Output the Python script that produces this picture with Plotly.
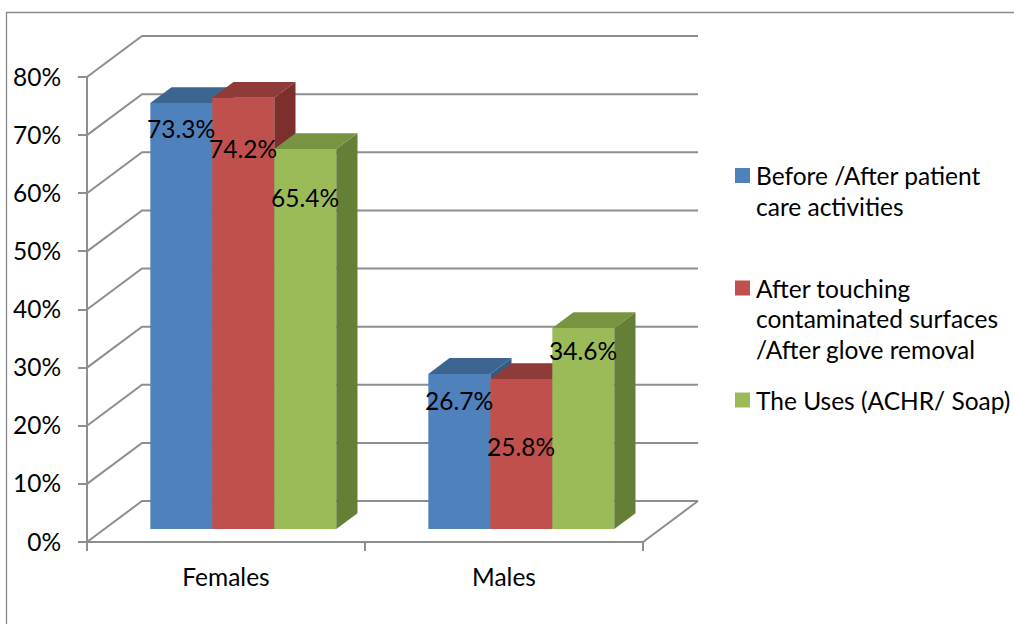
import plotly.graph_objects as go

# ---- data ----
categories = ["Females", "Males"]
series_names = [
    "Before /After patient care activities",
    "After touching contaminated surfaces /After glove removal",
    "The Uses (ACHR/ Soap)",
]
values = [
    [73.3, 26.7],   # Before /After patient care activities
    [74.2, 25.8],   # After touching contaminated surfaces /After glove removal
    [65.4, 34.6],   # The Uses (ACHR/ Soap)
]
legend_lines = [
    ["Before /After patient", "care activities"],
    ["After touching", "contaminated surfaces", "/After glove removal"],
    ["The Uses (ACHR/ Soap)"],
]
y_ticks = [0, 10, 20, 30, 40, 50, 60, 70, 80]
y_tick_text = ["0%", "10%", "20%", "30%", "40%", "50%", "60%", "70%", "80%"]

# ---- styling ----
front_colors = ["#4F81BD", "#C0504D", "#9BBB59"]
top_colors = ["#3D6592", "#8E3B39", "#789440"]
side_colors = ["#375A84", "#7C2F2D", "#667F37"]
label_drop = [[25, 27], [51, 67], [49, 23]]   # label offset below bar top, px
FONT = "Lato"
FS = 24.5
GRID = "#8E8E8E"

W_FIG, H_FIG = 1014, 624
L, R_PIX, T, B_PIX = 80, 705, 24, 552      # plot area in pixels
PX_X = 278.0                               # pixels per category
PX_Y = 5.8125                              # pixels per percent
X0_PIX, Y0_PIX = 87, 542                   # front axis corner

x_min = (L - X0_PIX) / PX_X - 0.5
x_max = (R_PIX - X0_PIX) / PX_X - 0.5
y_min = (Y0_PIX - B_PIX) / PX_Y
y_max = (Y0_PIX - T) / PX_Y

DX = 55 / PX_X          # depth vector of the 3D box (data units)
DY = 41 / PX_Y
F0, F1 = 0.315, 0.70    # bar depth span as fraction of box depth
BW = 0.223              # bar width (category units)

W_PLOT = R_PIX - L
H_PLOT = B_PIX - T


def paper_x(px):
    return (px - L) / W_PLOT


def paper_y(py):
    return (B_PIX - py) / H_PLOT


fig = go.Figure()

# back wall gridlines with their diagonals on the side wall
xl, xr = -0.5, 1.5
for v in y_ticks:
    fig.add_trace(go.Scatter(
        x=[xl, xl + DX, xr + DX], y=[v, v + DY, v + DY],
        mode="lines", line=dict(color=GRID, width=2),
        hoverinfo="skip", showlegend=False))

# vertical value axis line
fig.add_trace(go.Scatter(
    x=[xl, xl], y=[0, y_ticks[-1]], mode="lines",
    line=dict(color=GRID, width=2), hoverinfo="skip", showlegend=False))

# floor: front edge and right diagonal
fig.add_trace(go.Scatter(
    x=[xl, xr, xr + DX], y=[0, 0, DY], mode="lines", xaxis="x2",
    line=dict(color=GRID, width=2), hoverinfo="skip", showlegend=False))

n_series = len(series_names)
group_w = n_series * BW
ddx, ddy = (F1 - F0) * DX, (F1 - F0) * DY
base = F0 * DY

# each series lives on its own overlaid subplot so later series sit in front
for s in range(n_series):
    xa, ya = f"x{s + 3}", f"y{s + 3}"
    for c in range(len(categories)):
        v = values[s][c]
        left = c - group_w / 2 + s * BW + F0 * DX
        right = left + BW
        # front face
        fig.add_trace(go.Bar(
            x=[(left + right) / 2], y=[v], base=[base], width=[BW],
            xaxis=xa, yaxis=ya,
            marker=dict(color=front_colors[s], line=dict(width=0)),
            name=series_names[s], showlegend=False,
            hovertemplate=f"{categories[c]}: {v}%<extra></extra>"))
        # right side face
        fig.add_trace(go.Scatter(
            x=[right, right, right + ddx, right + ddx, right],
            y=[base, base + v, base + v + ddy, base + ddy, base],
            xaxis=xa, yaxis=ya,
            mode="lines", fill="toself", fillcolor=side_colors[s],
            line=dict(width=0, color=side_colors[s]),
            hoverinfo="skip", showlegend=False))
        # top face
        fig.add_trace(go.Scatter(
            x=[left, right, right + ddx, left + ddx, left],
            y=[base + v, base + v, base + v + ddy, base + v + ddy, base + v],
            xaxis=xa, yaxis=ya,
            mode="lines", fill="toself", fillcolor=top_colors[s],
            line=dict(width=0, color=top_colors[s]),
            hoverinfo="skip", showlegend=False))
        # value label
        fig.add_annotation(
            x=(left + right) / 2, y=base + v, xref="x", yref="y",
            text=f"{v}%", showarrow=False, xanchor="center", yanchor="middle",
            yshift=-label_drop[s][c],
            font=dict(family=FONT, size=FS, color="#000000"))

# legend
legend_first_y = [175.5, 288, 400]
line_pitch = 30.5
for s in range(n_series):
    cy = legend_first_y[s]
    fig.add_shape(
        type="rect", xref="paper", yref="paper",
        x0=paper_x(735), x1=paper_x(750), y0=paper_y(cy + 7.5), y1=paper_y(cy - 7.5),
        fillcolor=front_colors[s], line=dict(width=0))
    for k, txt in enumerate(legend_lines[s]):
        fig.add_annotation(
            x=paper_x(754), y=paper_y(cy + k * line_pitch), xref="paper", yref="paper",
            text=txt, showarrow=False, xanchor="left", yanchor="middle",
            font=dict(family=FONT, size=FS, color="#000000"))

# chart border
fig.add_shape(
    type="rect", xref="paper", yref="paper",
    x0=paper_x(6.5), x1=paper_x(1030), y0=paper_y(640), y1=paper_y(12.5),
    line=dict(color="#898989", width=1.3), fillcolor="rgba(0,0,0,0)", layer="below")

hidden_axis = dict(visible=False, showgrid=False, zeroline=False, fixedrange=True)
layout_axes = {}
for s in range(n_series):
    layout_axes[f"xaxis{s + 3}"] = dict(hidden_axis, range=[x_min, x_max], overlaying="x")
    layout_axes[f"yaxis{s + 3}"] = dict(hidden_axis, range=[y_min, y_max], overlaying="y")

fig.update_layout(
    width=W_FIG, height=H_FIG,
    margin=dict(l=L, r=W_FIG - R_PIX, t=T, b=H_FIG - B_PIX, pad=0),
    paper_bgcolor="white", plot_bgcolor="white",
    showlegend=False, barmode="overlay",
    font=dict(family=FONT, size=FS, color="#000000"),
    xaxis=dict(
        range=[x_min, x_max], tickvals=list(range(len(categories))),
        ticktext=categories, ticks="", showgrid=False, zeroline=False,
        showline=False, anchor="free", position=paper_y(Y0_PIX),
        ticklabelstandoff=18, fixedrange=True),
    xaxis2=dict(
        range=[x_min, x_max], overlaying="x", tickvals=[-0.5, 0.5, 1.5],
        ticks="outside", ticklen=8, tickwidth=2, tickcolor=GRID,
        showticklabels=False, showgrid=False, zeroline=False, showline=False,
        anchor="free", position=paper_y(Y0_PIX), side="bottom", fixedrange=True),
    yaxis=dict(
        range=[y_min, y_max], tickvals=y_ticks, ticktext=y_tick_text,
        ticks="outside", ticklen=9, tickwidth=2, tickcolor=GRID,
        showgrid=False, zeroline=False, showline=False,
        anchor="free", position=paper_x(X0_PIX),
        ticklabelstandoff=12, fixedrange=True),
    **layout_axes,
)

fig.write_html("out.html")
